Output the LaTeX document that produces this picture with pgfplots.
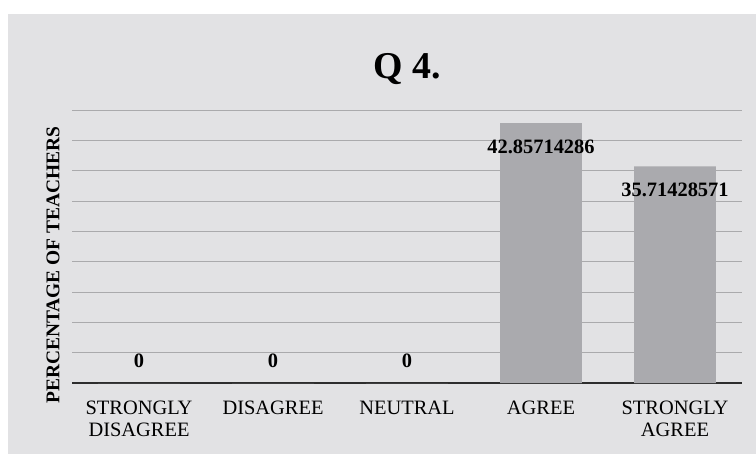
\documentclass[border=0pt]{standalone}
\usepackage{pgfplots}
\pgfplotsset{compat=1.18}
\usepackage{fontspec}
\setmainfont{Liberation Serif}
\definecolor{bggray}{RGB}{226,226,228}
\definecolor{barfill}{RGB}{170,170,174}
\definecolor{gridc}{RGB}{170,170,172}
\definecolor{basec}{RGB}{45,45,45}
\begin{document}
\begin{tikzpicture}
\useasboundingbox (0bp,0bp) rectangle (756bp,454bp);
\fill[white] (0bp,0bp) rectangle (756bp,454bp);
\fill[bggray] (8bp,0bp) rectangle (756bp,440bp);
\node[font=\bfseries\fontsize{38}{40}\selectfont] at (407bp,385bp) {Q 4.};
\begin{axis}[
  at={(72bp,71bp)}, anchor=south west,
  scale only axis, width=670bp, height=273bp,
  bar width=0.61,
  xmin=-0.5, xmax=4.5, ymin=0, ymax=45,
  xtick={0,1,2,3,4},
  xticklabels={{STRONGLY\\DISAGREE},{DISAGREE},{NEUTRAL},{AGREE},{STRONGLY\\AGREE}},
  xticklabel style={align=center, font=\fontsize{20.5}{23}\selectfont, yshift=-14bp},
  ytick distance=5, yticklabels={},
  ymajorgrids, grid style={gridc, line width=0.8bp},
  major tick length=0pt,
  axis x line*=bottom, axis y line*=left,
  x axis line style={basec, line width=2.6bp},
  y axis line style={draw=none},
  ylabel={PERCENTAGE OF TEACHERS},
  every axis y label/.style={at={(rel axis cs:0,0.432)}, xshift=-19bp, rotate=90, anchor=center, font=\bfseries\fontsize{19.5}{22}\selectfont},
  clip=false,
]
\addplot[ybar, bar shift=0pt, fill=barfill, draw=none] coordinates {(0,0) (1,0) (2,0) (3,42.85714286) (4,35.71428571)};
\addplot[draw=none, mark=none, nodes near coords, point meta=explicit symbolic,
  every node near coord/.append style={anchor=center, yshift=22bp, font=\bfseries\fontsize{20.5}{22}\selectfont}]
  coordinates {(0,0) [0] (1,0) [0] (2,0) [0]};
\addplot[draw=none, mark=none, nodes near coords, point meta=explicit symbolic,
  every node near coord/.append style={anchor=center, yshift=-24bp, font=\bfseries\fontsize{20.5}{22}\selectfont}]
  coordinates {(3,42.85714286) [42.85714286] (4,35.71428571) [35.71428571]};
\end{axis}
\end{tikzpicture}
\end{document}
